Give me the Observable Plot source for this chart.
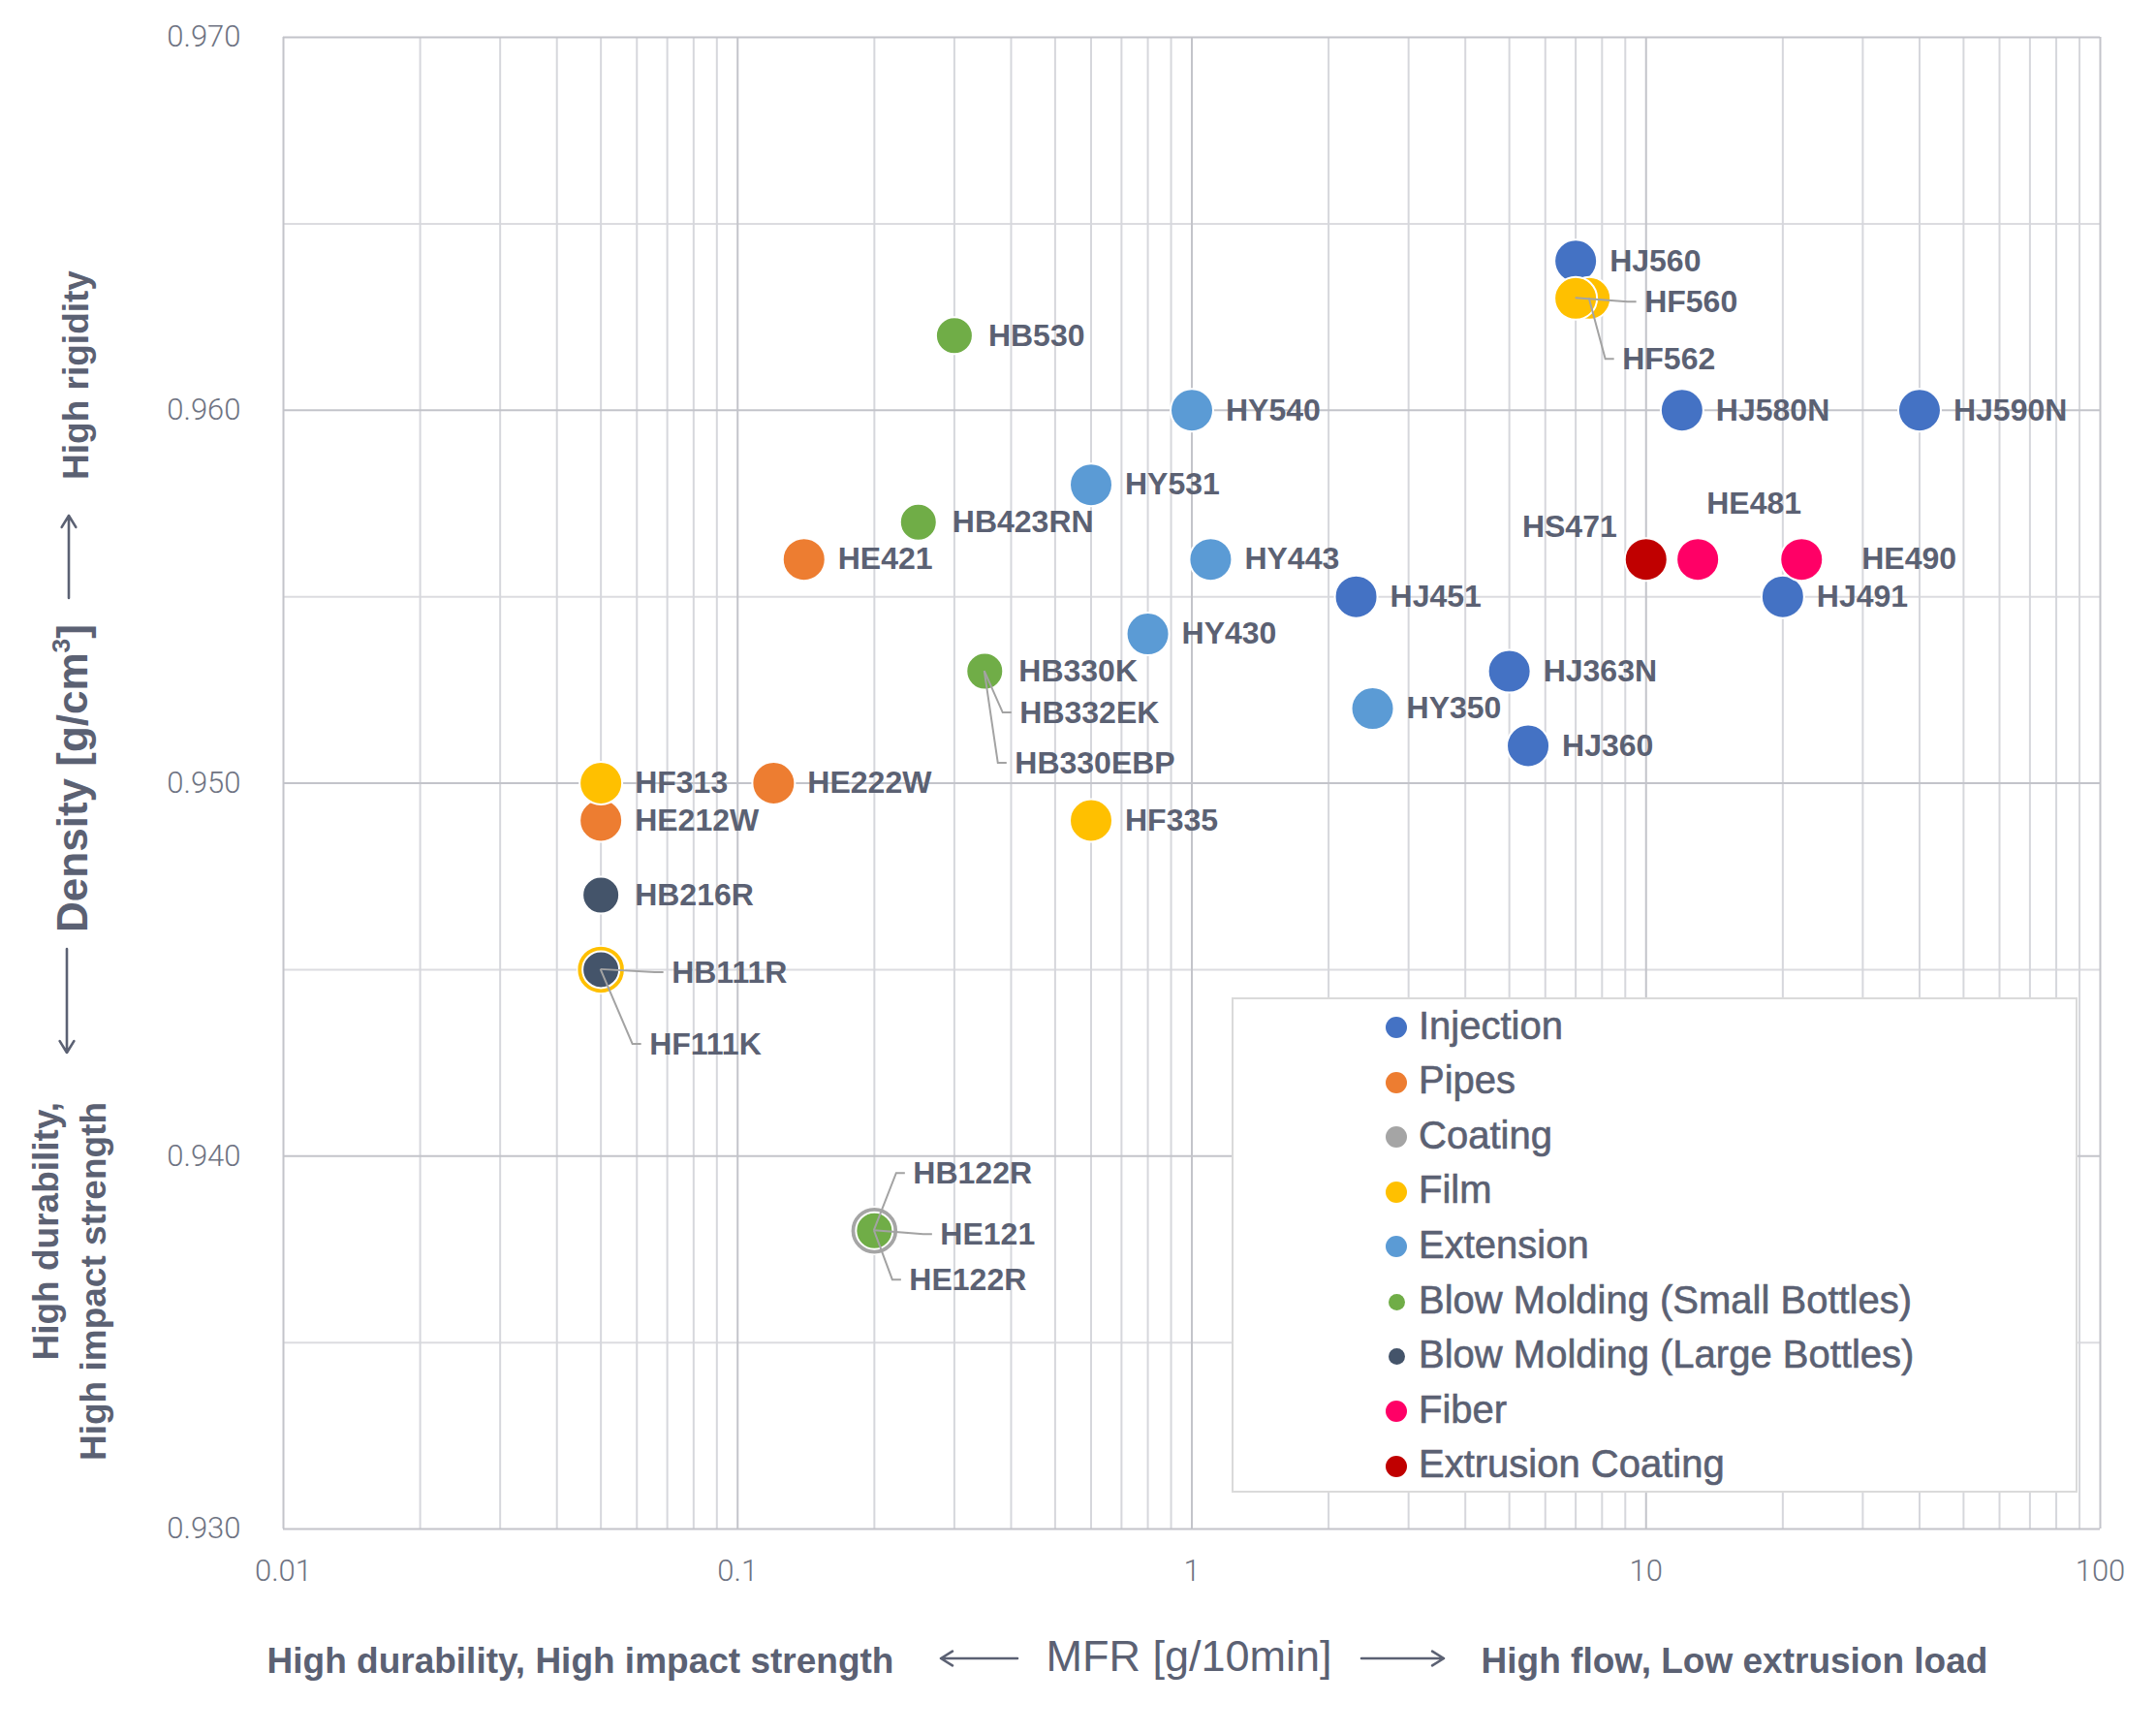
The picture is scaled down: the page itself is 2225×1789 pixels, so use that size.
<!DOCTYPE html>
<html><head><meta charset="utf-8">
<script src="https://cdn.jsdelivr.net/npm/d3@7"></script>
<script src="https://cdn.jsdelivr.net/npm/@observablehq/plot@0.6"></script>
<style>
body{margin:0;background:#fff;}
#wrap{position:relative;width:2225px;height:1789px;font-family:"Liberation Sans",Arial,sans-serif;color:#5b6173;overflow:hidden;}
#wrap svg{position:absolute;left:0;top:0;}
.abs{position:absolute;white-space:nowrap;transform:translate(-50%,-50%);line-height:1;}
.rot{transform:translate(-50%,-50%) rotate(-90deg);}
.bold{font-weight:bold;font-size:37px;}
#legend{position:absolute;left:1271px;top:1029px;width:869px;height:507px;border:2px solid #dadada;background:#fff;}
.li{position:absolute;left:0;height:50px;display:flex;align-items:center;font-size:40px;color:#5b6173;white-space:nowrap;-webkit-text-stroke:0.6px #5b6173;}
.li .dot{position:absolute;border-radius:50%;}
</style></head><body><div id="wrap"></div>
<script>
// ---- categories (legend order = drawing order) ----
const categories = ["Injection","Pipes","Coating","Film","Extension","Blow Molding (Small Bottles)","Blow Molding (Large Bottles)","Fiber","Extrusion Coating"];
const categoryColors = ["#4472C4","#ED7D31","#A5A5A5","#FFC000","#5B9BD5","#70AD47","#44546A","#FF0066","#C00000"];

// ---- grades ----
const grades  = ["HJ560","HJ580N","HJ590N","HJ451","HJ491","HJ363N","HJ360",
                 "HE421","HE222W","HE212W",
                 "HE121","HE122R",
                 "HF562","HF560","HF313","HF335","HF111K",
                 "HY540","HY531","HY443","HY430","HY350",
                 "HB530","HB423RN","HB330K","HB332EK","HB330EBP","HB122R",
                 "HB216R","HB111R",
                 "HE481","HE490",
                 "HS471"];
const mfr     = [7,12,40,2.3,20,5,5.5,
                 0.14,0.12,0.05,
                 0.2,0.2,
                 7.5,7,0.05,0.6,0.05,
                 1,0.6,1.1,0.8,2.5,
                 0.3,0.25,0.35,0.35,0.35,0.2,
                 0.05,0.05,
                 13,22,
                 10];
const density = [0.964,0.960,0.960,0.955,0.955,0.953,0.951,
                 0.956,0.950,0.949,
                 0.938,0.938,
                 0.963,0.963,0.950,0.949,0.945,
                 0.960,0.958,0.956,0.954,0.952,
                 0.962,0.957,0.953,0.953,0.953,0.938,
                 0.947,0.945,
                 0.956,0.956,
                 0.956];
const usage   = ["Injection","Injection","Injection","Injection","Injection","Injection","Injection",
                 "Pipes","Pipes","Pipes",
                 "Coating","Coating",
                 "Film","Film","Film","Film","Film",
                 "Extension","Extension","Extension","Extension","Extension",
                 "Blow Molding (Small Bottles)","Blow Molding (Small Bottles)","Blow Molding (Small Bottles)","Blow Molding (Small Bottles)","Blow Molding (Small Bottles)","Blow Molding (Small Bottles)",
                 "Blow Molding (Large Bottles)","Blow Molding (Large Bottles)",
                 "Fiber","Fiber",
                 "Extrusion Coating"];

// ---- axis ticks ----
const xTicks = [0.01, 0.1, 1, 10, 100];
const yTicks = [0.930, 0.940, 0.950, 0.960, 0.970];
const yMinor = [0.935, 0.945, 0.955, 0.965];

// ---- label placement (pixels, relative to the point) ----
const labelPlacement = {
  HF560:{dx:71,dy:4,leader:true}, HF562:{dx:34,dy:63,leader:true},
  HE481:{dx:58,dy:-57,anchor:"middle"}, HS471:{dx:-30,dy:-33,anchor:"end"},
  HE490:{dx:62,dy:0},
  HB332EK:{dx:36,dy:43,leader:true}, HB330EBP:{dx:31,dy:95,leader:true},
  HB111R:{dx:73,dy:3,leader:true}, HF111K:{dx:50,dy:77,leader:true},
  HB122R:{dx:40,dy:-59,leader:true}, HE121:{dx:68,dy:4,leader:true}, HE122R:{dx:36,dy:51,leader:true}
};

const data = grades.map((g,i)=>({grade:g, mfr:mfr[i], density:density[i], usage:usage[i], order:categories.indexOf(usage[i])}));
const labelColor = "#5b6173";
const isBlow = c => c.startsWith("Blow");
// a point hidden under a point of a later-drawn series shows as a ring around it
const covered = d => data.some(e => e.order > d.order && e.mfr === d.mfr && e.density === d.density);

const xMinor = d3.scaleLog().domain([0.01,100]).ticks().filter(v => !xTicks.some(t => Math.abs(t-v)/t < 1e-9));

function leaders(index, scales) {
  const g = d3.create("svg:g").attr("fill","none").attr("stroke","#a3a3a3").attr("stroke-width",2);
  for (const d of data) {
    const p = labelPlacement[d.grade];
    if (!p || !p.leader) continue;
    const px = scales.x(d.mfr), py = scales.y(d.density);
    g.append("path").attr("d", `M${px},${py}L${px+p.dx-17},${py+p.dy}L${px+p.dx-8},${py+p.dy}`);
  }
  return g.node();
}

const dotMarks = categories.flatMap(c => {
  const rows = data.filter(d => d.usage === c);
  const base = isBlow(c) ? 19 : 22;
  return [
    Plot.dot(rows.filter(covered), {x:"mfr", y:"density", fill:"usage", r: 24.5, stroke:"white", strokeWidth:1.5}),
    Plot.dot(rows.filter(d => !covered(d)), {x:"mfr", y:"density", fill:"usage", r: base, stroke:"white", strokeWidth:2})
  ];
});

const labelMarks = data.map(d => {
  const p = labelPlacement[d.grade] || {dx:35, dy:0};
  return Plot.text([d], {x:"mfr", y:"density", text:"grade", dx:p.dx, dy:p.dy,
    textAnchor: p.anchor || "start", fontSize:32, fontWeight:"bold", fill:labelColor});
});

const chart = Plot.plot({
  width:2225, height:1789,
  marginLeft:292, marginRight:58, marginTop:38, marginBottom:212,
  x:{type:"log", domain:[0.01,100]},
  y:{domain:[0.930,0.970]},
  color:{domain:categories, range:categoryColors},
  style:{fontFamily:"'Liberation Sans', Arial, sans-serif", fontSize:"30px", color:"#6e7382", background:"transparent", overflow:"visible"},
  marks:[
    Plot.ruleY(yMinor, {stroke:"#dcdce0", strokeWidth:2}),
    Plot.ruleX(xMinor, {stroke:"#d6d7dc", strokeWidth:2}),
    Plot.ruleX(xTicks, {stroke:"#c3c4ca", strokeWidth:2}),
    Plot.ruleY(yTicks, {stroke:"#c3c4ca", strokeWidth:2}),
    Plot.axisX({ticks:xTicks, tickSize:0, tickPadding:31, tickFormat:d => String(d), fontSize:31, fontFamily:"Roboto", fontWeight:300, label:null}),
    Plot.axisY({ticks:yTicks, tickSize:0, tickPadding:44, tickFormat:d3.format(".3f"), fontSize:31, fontFamily:"Roboto", fontWeight:300, label:null}),
    ...dotMarks,
    leaders,
    ...labelMarks
  ]
});

const wrap = document.getElementById("wrap");
wrap.appendChild(chart);

// legend
const legend = document.createElement("div");
legend.id = "legend";
categories.forEach((c,i) => {
  const row = document.createElement("div");
  row.className = "li";
  row.style.top = (27 + i*56.6 - 25) + "px";
  const r = isBlow(c) ? 8.5 : 11;
  const dot = document.createElement("span");
  dot.className = "dot";
  dot.style.cssText = `left:${168-r}px;top:${25-r+2}px;width:${2*r}px;height:${2*r}px;background:${categoryColors[i]};`;
  const t = document.createElement("span");
  t.textContent = c;
  t.style.marginLeft = "191px";
  row.appendChild(dot); row.appendChild(t);
  legend.appendChild(row);
});
wrap.appendChild(legend);

// axis titles
function addText(html, cx, cy, cls, style="") {
  const d = document.createElement("div");
  d.className = "abs " + cls;
  d.style.cssText = `left:${cx}px;top:${cy}px;${style}`;
  d.innerHTML = html;
  wrap.appendChild(d);
  return d;
}
addText("High durability, High impact strength", 599, 1713, "bold");
addText("MFR [g/10min]", 1227, 1708, "", "font-size:45px;");
addText("High flow, Low extrusion load", 1790, 1713, "bold");
addText("High rigidity", 78, 387, "rot bold");
addText("Density [g/cm<sup style='font-size:0.6em;vertical-align:0.7em;line-height:0'>3</sup>]", 75, 803, "rot", "font-size:44px;font-weight:bold;");
addText("<div style='text-align:right;line-height:49px'>High durability,<br>High impact strength</div>", 71.5, 1322, "rot bold");

// arrows
function arrow(x1,y1,x2,y2) {
  const ns = "http://www.w3.org/2000/svg";
  const s = document.createElementNS(ns,"svg");
  s.setAttribute("width",2225); s.setAttribute("height",1789);
  s.style.cssText = "position:absolute;left:0;top:0;pointer-events:none;";
  const ang = Math.atan2(y2-y1, x2-x1), L = 14, W = 0.55;
  const p = (a) => `${x2 - L*Math.cos(ang+a)},${y2 - L*Math.sin(ang+a)}`;
  s.innerHTML = `<path d="M${x1},${y1}L${x2},${y2}M${p(W)}L${x2},${y2}L${p(-W)}" fill="none" stroke="#5b6173" stroke-width="2.6" stroke-linecap="round" stroke-linejoin="round"/>`;
  wrap.appendChild(s);
}
arrow(1050,1711,971,1711);
arrow(1405,1711,1490,1711);
arrow(71,617,71,532);
arrow(69,979,69,1086);
</script></body></html>
